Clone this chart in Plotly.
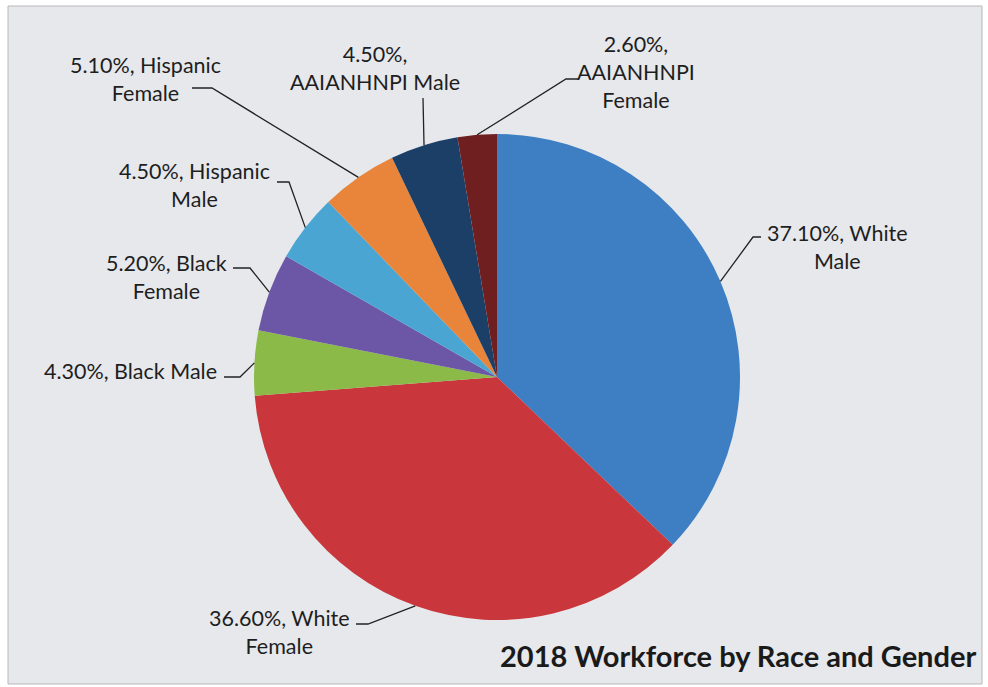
import math
import plotly.graph_objects as go

# ---- data ----
categories = ["White Male", "White Female", "Black Male", "Black Female",
              "Hispanic Male", "Hispanic Female", "AAIANHNPI Male", "AAIANHNPI Female"]
values = [37.10, 36.60, 4.30, 5.20, 4.50, 5.10, 4.50, 2.60]
label_texts = ["37.10%, White<br>Male", "36.60%, White<br>Female", "4.30%, Black Male",
               "5.20%, Black<br>Female", "4.50%, Hispanic<br>Male", "5.10%, Hispanic<br>Female",
               "4.50%,<br>AAIANHNPI Male", "2.60%,<br>AAIANHNPI<br>Female"]
colors = ["#3d7fc2", "#c9363b", "#8cba48", "#6b57a6", "#4aa5d3", "#e8853b", "#1b3f66", "#6f1f20"]
title_text = "2018 Workforce by Race and Gender"

# ---- layout (pixels) ----
W, H = 988, 687
CX, CY, R = 497, 377, 243
# label block anchor (x, y, xanchor) and leader-line elbow points
label_pos = [(837, 247, "center"), (279, 632, "center"), (219, 371, "right"),
             (166, 277, "center"), (194, 185, "center"), (145, 79, "center"),
             (375, 68, "center"), (636, 72, "center")]
elbows = [[(753, 237), (761, 237)], [(368, 624), (356, 624)], [(240, 377), (224, 377)],
          [(250, 268), (233, 268)], [(289, 182), (277, 182)], [(212, 88), (192, 88)],
          [(423, 98)], [(566, 79), (578, 79)]]

def px(x):
    return x / W

def py(y):
    return 1 - y / H

fig = go.Figure(go.Pie(
    labels=categories, values=values, sort=False, direction="clockwise", rotation=0,
    marker=dict(colors=colors, line=dict(width=0)), textinfo="none", showlegend=False,
    domain=dict(x=[px(CX - R), px(CX + R)], y=[py(CY + R), py(CY - R)]),
    hoverinfo="label+percent",
))

shapes = [dict(type="rect", xref="paper", yref="paper", x0=px(8), x1=px(982), y0=py(684), y1=py(6),
               fillcolor="#e6e8ec", line=dict(color="#b8b8b8", width=1), layer="below")]

total = sum(values)
cum = 0
annotations = []
for i, v in enumerate(values):
    mid = (cum + v / 2) / total * 2 * math.pi
    cum += v
    ex, ey = CX + R * math.sin(mid), CY - R * math.cos(mid)
    pts = [(ex, ey)] + elbows[i]
    path = "M " + " L ".join(f"{px(x):.5f},{py(y):.5f}" for x, y in pts)
    shapes.append(dict(type="path", xref="paper", yref="paper", path=path,
                       line=dict(color="#222222", width=1.3)))
    lx, ly, anchor = label_pos[i]
    annotations.append(dict(x=px(lx), y=py(ly), xref="paper", yref="paper", text=label_texts[i],
                            showarrow=False, xanchor=anchor, yanchor="middle", align="center",
                            font=dict(family="Lato, sans-serif", size=21.5, color="#1e1e1e")))

annotations.append(dict(x=px(978), y=py(655), xref="paper", yref="paper",
                        text=f"<b>{title_text}</b>", showarrow=False, xanchor="right", yanchor="middle",
                        font=dict(family="Lato, sans-serif", size=29, color="#1a1a1a")))

fig.update_layout(width=W, height=H, margin=dict(l=0, r=0, t=0, b=0),
                  paper_bgcolor="white", plot_bgcolor="white",
                  shapes=shapes, annotations=annotations)

fig.write_html("out.html", config={"displayModeBar": False},
               post_script="document.body.style.margin='0';")
